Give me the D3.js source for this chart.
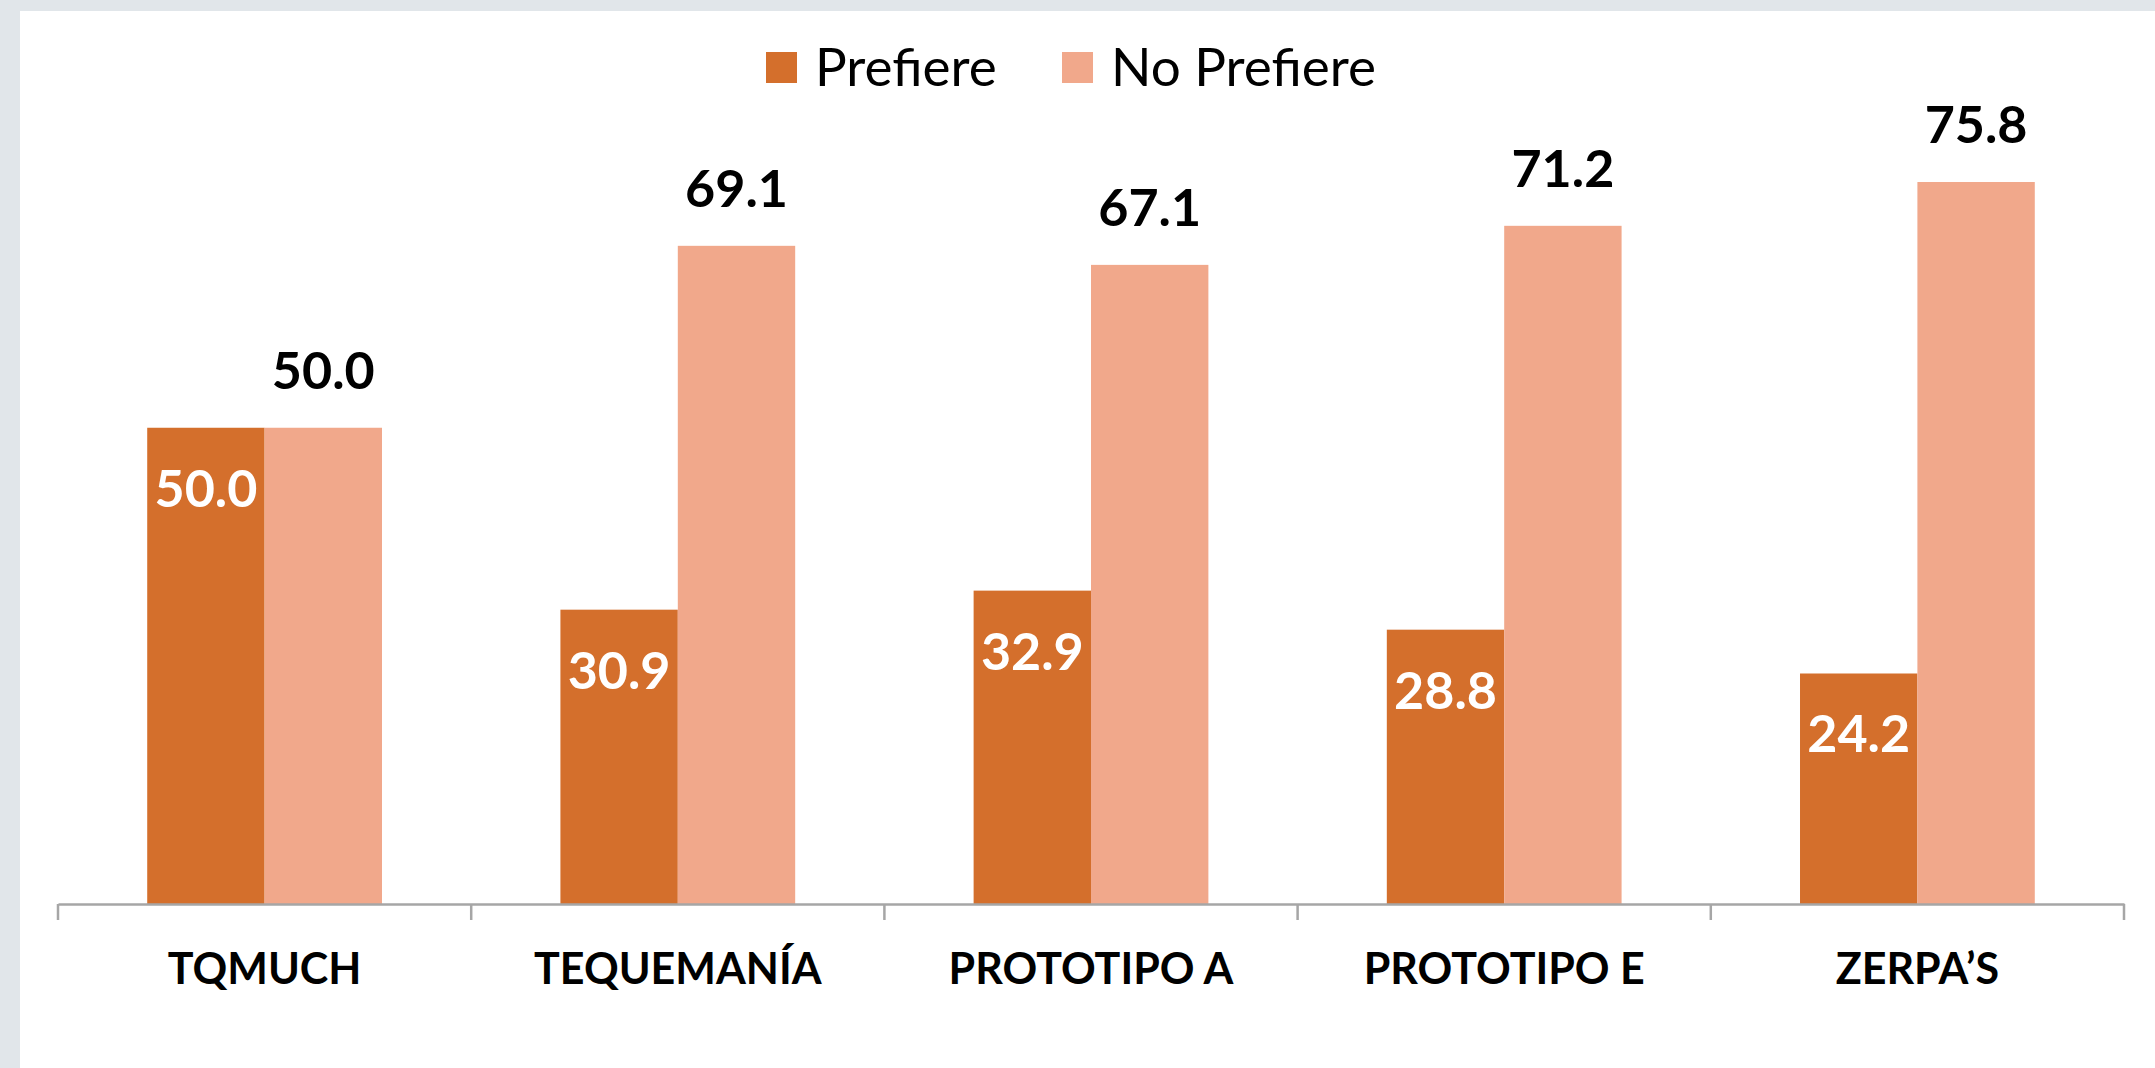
<!DOCTYPE html>
<html>
<head>
<meta charset="utf-8">
<script src="https://cdn.jsdelivr.net/npm/d3@7"></script>
<style>
  html, body { margin: 0; padding: 0; background: #e1e6ea; }
  svg { display: block; }
</style>
</head>
<body>
<div id="chart"></div>
<script>
// data
const categories = ["TQMUCH", "TEQUEMANÍA", "PROTOTIPO A", "PROTOTIPO E", "ZERPA\u2019S"];
const seriesNames = ["Prefiere", "No Prefiere"];
const prefiere = [50.0, 30.9, 32.9, 28.8, 24.2];
const noPrefiere = [50.0, 69.1, 67.1, 71.2, 75.8];
const colors = ["#d46f2c", "#f1a88b"];

const W = 2155, H = 1068;
const margin = {top: 142, right: 31, bottom: 164, left: 58};
const width = W - margin.left - margin.right,
      height = H - margin.top - margin.bottom;

const svg = d3.select("#chart")
  .append("svg")
    .attr("width", W)
    .attr("height", H);

// white panel
svg.append("rect")
  .attr("x", 20).attr("y", 11)
  .attr("width", W - 20).attr("height", H - 11)
  .attr("fill", "#ffffff");

const g = svg.append("g")
  .attr("transform", `translate(${margin.left},${margin.top})`);

const rows = categories.map((c, i) => ({cat: c, values: [prefiere[i], noPrefiere[i]]}));

const x0 = d3.scaleBand()
  .domain(categories)
  .range([0, width])
  .padding(0);

const x1 = d3.scaleBand()
  .domain(seriesNames)
  .range([0, x0.bandwidth()])
  .paddingInner(0)
  .paddingOuter(0.76);

const y = d3.scaleLinear()
  .domain([0, 80])
  .range([height, 0]);

// bars
const groups = g.selectAll(".grp")
  .data(rows)
  .enter().append("g")
    .attr("class", "grp")
    .attr("transform", d => `translate(${x0(d.cat)},0)`);

groups.selectAll("rect")
  .data(d => d.values.map((v, k) => ({s: seriesNames[k], k: k, v: v})))
  .enter().append("rect")
    .attr("x", d => x1(d.s))
    .attr("y", d => y(d.v))
    .attr("width", x1.bandwidth())
    .attr("height", d => height - y(d.v))
    .attr("fill", d => colors[d.k]);

// labels: Prefiere inside (white), No Prefiere above (black)
groups.selectAll("text.val")
  .data(d => d.values.map((v, k) => ({s: seriesNames[k], k: k, v: v})))
  .enter().append("text")
    .attr("class", "val")
    .attr("x", d => x1(d.s) + x1.bandwidth() / 2)
    .attr("y", d => d.k === 0 ? y(d.v) + 79 : y(d.v) - 39)
    .attr("text-anchor", "middle")
    .style("font-family", "Lato, 'Open Sans', sans-serif")
    .style("font-weight", "bold")
    .style("font-size", "52px")
    .attr("fill", d => d.k === 0 ? "#ffffff" : "#000000")
    .text(d => d.v.toFixed(1));

// x axis
const xAxis = g.append("g")
  .attr("transform", `translate(0,${height})`)
  .call(d3.axisBottom(x0).tickSize(0).tickPadding(0).tickFormat(""));
xAxis.select(".domain").attr("stroke", "#a6a6a6").attr("stroke-width", 2.5);

// tick marks at band boundaries
g.append("g")
  .selectAll("line")
  .data(categories.concat(["__end"]))
  .enter().append("line")
    .attr("x1", d => d === "__end" ? width : x0(d))
    .attr("x2", d => d === "__end" ? width : x0(d))
    .attr("y1", height)
    .attr("y2", height + 16)
    .attr("stroke", "#a6a6a6")
    .attr("stroke-width", 2.5);

// category labels
g.append("g")
  .selectAll("text")
  .data(categories)
  .enter().append("text")
    .attr("x", d => x0(d) + x0.bandwidth() / 2)
    .attr("y", height + 80)
    .attr("text-anchor", "middle")
    .style("font-family", "Lato, 'Open Sans', sans-serif")
    .style("font-weight", "bold")
    .style("font-size", "43px")
    .attr("fill", "#000000")
    .text(d => d);

// legend
const legendX = [766, 1062];
const legend = svg.append("g");
seriesNames.forEach((s, k) => {
  legend.append("rect")
    .attr("x", legendX[k]).attr("y", 52)
    .attr("width", 31).attr("height", 31)
    .attr("fill", colors[k]);
  legend.append("text")
    .attr("x", legendX[k] + 49).attr("y", 86)
    .style("font-family", "Lato, 'Open Sans', sans-serif")
    .style("font-size", "53px")
    .attr("fill", "#000000")
    .text(s);
});
</script>
</body>
</html>
